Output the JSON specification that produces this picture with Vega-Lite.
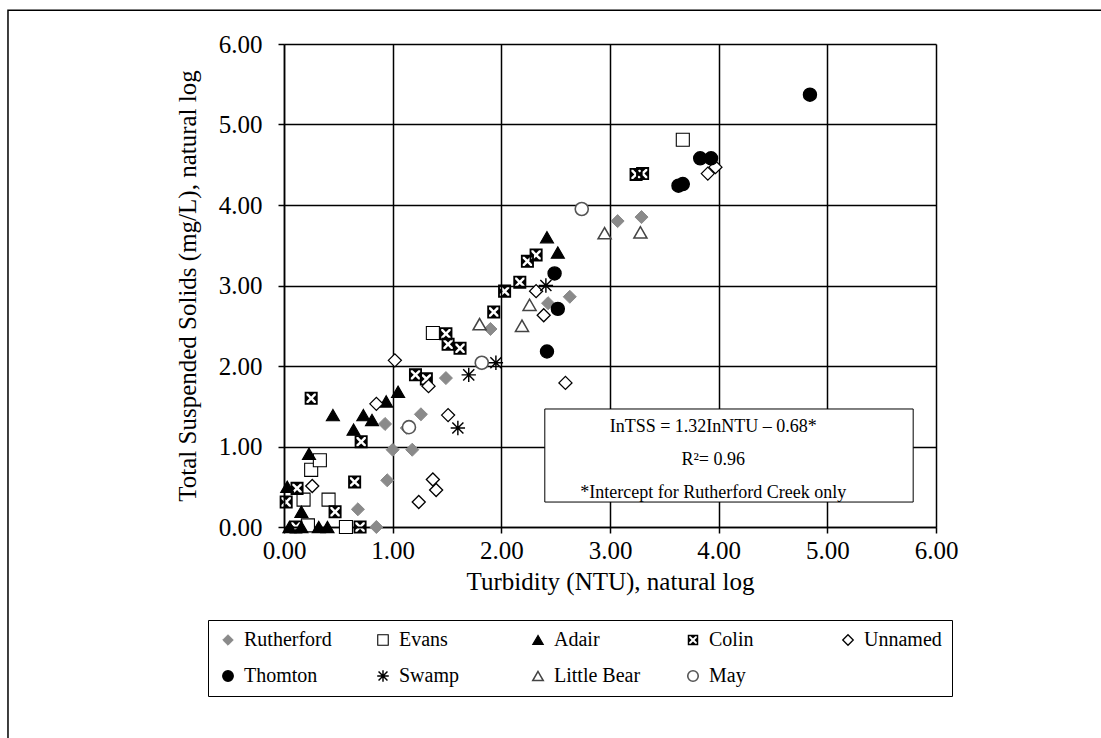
{
  "$schema": "https://vega.github.io/schema/vega-lite/v6.json",
  "width": 652,
  "height": 483,
  "autosize": {"type": "none"},
  "padding": {"left": 284, "top": 44, "right": 165, "bottom": 211},
  "background": "white",
  "config": {
    "view": {"stroke": null},
    "font": "Liberation Serif",
    "axis": {
      "labelFont": "Liberation Serif", "labelFontSize": 25, "labelColor": "black", "labelFlush": false,
      "titleFont": "Liberation Serif", "titleFontSize": 25, "titleFontWeight": "normal", "titleColor": "black",
      "domainColor": "black", "domainWidth": 1.5,
      "gridColor": "black", "gridWidth": 1.5, "gridOpacity": 1,
      "tickColor": "black", "tickSize": 6, "tickWidth": 1.5
    }
  },
  "datasets": {
    "pts": [
      {"site": "Rutherford", "x": 0.85, "y": 0.0},
      {"site": "Rutherford", "x": 0.68, "y": 0.22},
      {"site": "Rutherford", "x": 0.95, "y": 0.58},
      {"site": "Rutherford", "x": 1.0, "y": 0.96},
      {"site": "Rutherford", "x": 1.18, "y": 0.96},
      {"site": "Rutherford", "x": 0.93, "y": 1.28},
      {"site": "Rutherford", "x": 1.13, "y": 1.23},
      {"site": "Rutherford", "x": 1.26, "y": 1.4},
      {"site": "Rutherford", "x": 1.49, "y": 1.85},
      {"site": "Rutherford", "x": 1.9, "y": 2.46},
      {"site": "Rutherford", "x": 1.82, "y": 2.03},
      {"site": "Rutherford", "x": 2.43, "y": 2.78},
      {"site": "Rutherford", "x": 2.63, "y": 2.86},
      {"site": "Rutherford", "x": 3.07, "y": 3.8},
      {"site": "Rutherford", "x": 3.29, "y": 3.85},
      {"site": "Evans", "x": 0.22, "y": 0.02},
      {"site": "Evans", "x": 0.57, "y": 0.0},
      {"site": "Evans", "x": 0.18, "y": 0.34},
      {"site": "Evans", "x": 0.41, "y": 0.34},
      {"site": "Evans", "x": 0.25, "y": 0.71},
      {"site": "Evans", "x": 0.33, "y": 0.83},
      {"site": "Evans", "x": 1.37, "y": 2.41},
      {"site": "Evans", "x": 3.67, "y": 4.81},
      {"site": "Adair", "x": 0.05, "y": 0.0},
      {"site": "Adair", "x": 0.16, "y": 0.0},
      {"site": "Adair", "x": 0.32, "y": 0.0},
      {"site": "Adair", "x": 0.4, "y": 0.0},
      {"site": "Adair", "x": 0.03, "y": 0.5},
      {"site": "Adair", "x": 0.16, "y": 0.19},
      {"site": "Adair", "x": 0.23, "y": 0.91},
      {"site": "Adair", "x": 0.45, "y": 1.39},
      {"site": "Adair", "x": 0.64, "y": 1.21},
      {"site": "Adair", "x": 0.73, "y": 1.39},
      {"site": "Adair", "x": 0.81, "y": 1.33},
      {"site": "Adair", "x": 0.94, "y": 1.56},
      {"site": "Adair", "x": 1.05, "y": 1.68},
      {"site": "Adair", "x": 2.42, "y": 3.6},
      {"site": "Adair", "x": 2.52, "y": 3.41},
      {"site": "Colin", "x": 0.11, "y": 0.0},
      {"site": "Colin", "x": 0.7, "y": 0.0},
      {"site": "Colin", "x": 0.02, "y": 0.31},
      {"site": "Colin", "x": 0.12, "y": 0.48},
      {"site": "Colin", "x": 0.47, "y": 0.19},
      {"site": "Colin", "x": 0.65, "y": 0.56},
      {"site": "Colin", "x": 0.71, "y": 1.06},
      {"site": "Colin", "x": 0.25, "y": 1.6},
      {"site": "Colin", "x": 1.21, "y": 1.89},
      {"site": "Colin", "x": 1.31, "y": 1.84},
      {"site": "Colin", "x": 1.49, "y": 2.4},
      {"site": "Colin", "x": 1.51, "y": 2.27},
      {"site": "Colin", "x": 1.62, "y": 2.22},
      {"site": "Colin", "x": 1.93, "y": 2.67},
      {"site": "Colin", "x": 2.03, "y": 2.93},
      {"site": "Colin", "x": 2.17, "y": 3.04},
      {"site": "Colin", "x": 2.24, "y": 3.3},
      {"site": "Colin", "x": 2.32, "y": 3.38},
      {"site": "Colin", "x": 3.24, "y": 4.38},
      {"site": "Colin", "x": 3.3, "y": 4.39},
      {"site": "Unnamed", "x": 0.26, "y": 0.51},
      {"site": "Unnamed", "x": 0.85, "y": 1.53},
      {"site": "Unnamed", "x": 1.02, "y": 2.07},
      {"site": "Unnamed", "x": 1.33, "y": 1.75},
      {"site": "Unnamed", "x": 1.24, "y": 0.31},
      {"site": "Unnamed", "x": 1.37, "y": 0.59},
      {"site": "Unnamed", "x": 1.4, "y": 0.46},
      {"site": "Unnamed", "x": 1.51, "y": 1.39},
      {"site": "Unnamed", "x": 2.32, "y": 2.93},
      {"site": "Unnamed", "x": 2.39, "y": 2.63},
      {"site": "Unnamed", "x": 2.59, "y": 1.79},
      {"site": "Unnamed", "x": 3.9, "y": 4.39},
      {"site": "Unnamed", "x": 3.97, "y": 4.47},
      {"site": "Thomton", "x": 2.42, "y": 2.18},
      {"site": "Thomton", "x": 2.52, "y": 2.71},
      {"site": "Thomton", "x": 2.49, "y": 3.15},
      {"site": "Thomton", "x": 3.63, "y": 4.24},
      {"site": "Thomton", "x": 3.67, "y": 4.26},
      {"site": "Thomton", "x": 3.83, "y": 4.58},
      {"site": "Thomton", "x": 3.93, "y": 4.58},
      {"site": "Thomton", "x": 4.84, "y": 5.37},
      {"site": "Swamp", "x": 1.6, "y": 1.23},
      {"site": "Swamp", "x": 1.7, "y": 1.89},
      {"site": "Swamp", "x": 1.95, "y": 2.04},
      {"site": "Swamp", "x": 2.41, "y": 3.0},
      {"site": "Little Bear", "x": 1.8, "y": 2.52},
      {"site": "Little Bear", "x": 2.19, "y": 2.5},
      {"site": "Little Bear", "x": 2.26, "y": 2.76},
      {"site": "Little Bear", "x": 2.95, "y": 3.65},
      {"site": "Little Bear", "x": 3.28, "y": 3.66},
      {"site": "May", "x": 1.15, "y": 1.24},
      {"site": "May", "x": 1.82, "y": 2.04},
      {"site": "May", "x": 2.74, "y": 3.95}
    ]
  },
  "layer": [
    {
      "data": {"values": [{}]},
      "mark": {"type": "rect", "fill": null, "stroke": "black", "strokeWidth": 1.5, "clip": false},
      "encoding": {
        "x": {"datum": -2.54, "type": "quantitative", "scale": {"domain": [0, 6], "nice": false}},
        "x2": {"datum": 9},
        "y": {"datum": 6.42, "type": "quantitative", "scale": {"domain": [0, 6], "nice": false}},
        "y2": {"datum": -4}
      }
    },
    {
      "data": {"name": "pts"},
      "mark": {"type": "point", "filled": true, "opacity": 1, "size": 170},
      "encoding": {
        "x": {
          "field": "x", "type": "quantitative",
          "scale": {"domain": [0, 6], "nice": false},
          "axis": {"values": [0, 1, 2, 3, 4, 5, 6], "format": ".2f", "grid": true, "labelPadding": 5, "titlePadding": 6},
          "title": "Turbidity (NTU), natural log"
        },
        "y": {
          "field": "y", "type": "quantitative",
          "scale": {"domain": [0, 6], "nice": false},
          "axis": {"values": [0, 1, 2, 3, 4, 5, 6], "format": ".2f", "grid": true, "labelPadding": 16, "titlePadding": 18},
          "title": "Total Suspended Solids (mg/L), natural log"
        },
        "shape": {
          "field": "site", "type": "nominal", "title": null,
          "scale": {
            "domain": ["Rutherford", "Evans", "Adair", "Colin", "Unnamed", "Thomton", "Swamp", "Little Bear", "May"],
            "range": ["diamond", "square", "triangle-up",
              "M-1,-1H1V1H-1ZM-0.72,-0.72V0.72H0.72V-0.72ZM-0.45,-0.72H0.45L0,-0.27ZM0.72,-0.45V0.45L0.27,0ZM0.45,0.72H-0.45L0,0.27ZM-0.72,0.45V-0.45L-0.27,0Z",
              "diamond", "circle",
              "M-0.85,-0.85L0.85,0.85M-0.85,0.85L0.85,-0.85M0,-1.1V1.1M-1.1,0H1.1",
              "triangle-up", "circle"]
          },
          "legend": {
            "orient": "none", "legendX": -76, "legendY": 576, "direction": "horizontal", "columns": 5,
            "gridAlign": "all", "columnPadding": 41, "rowPadding": 16,
            "strokeColor": "black", "padding": 10,
            "labelFont": "Liberation Serif", "labelFontSize": 20, "labelColor": "black", "labelOffset": 6,
            "symbolSize": 110, "labelLimit": 200
          }
        },
        "fill": {
          "field": "site", "type": "nominal", "title": null,
          "scale": {
            "domain": ["Rutherford", "Evans", "Adair", "Colin", "Unnamed", "Thomton", "Swamp", "Little Bear", "May"],
            "range": ["#8a8a8a", "white", "black", "black", "white", "black", "transparent", "white", "white"]
          }
        },
        "stroke": {
          "field": "site", "type": "nominal", "title": null,
          "scale": {
            "domain": ["Rutherford", "Evans", "Adair", "Colin", "Unnamed", "Thomton", "Swamp", "Little Bear", "May"],
            "range": ["#8a8a8a", "black", "black", "transparent", "black", "black", "black", "#444444", "#555555"]
          }
        },
        "strokeWidth": {
          "field": "site", "type": "nominal", "title": null,
          "scale": {
            "domain": ["Rutherford", "Evans", "Adair", "Colin", "Unnamed", "Thomton", "Swamp", "Little Bear", "May"],
            "range": [1, 1.6, 1, 0, 1.4, 1, 2.6, 1.4, 1.4]
          }
        }
      }
    },
    {
      "data": {"values": [{}]},
      "mark": {"type": "rect", "fill": "white", "stroke": "black", "strokeWidth": 1},
      "encoding": {
        "x": {"datum": 2.4, "type": "quantitative"},
        "x2": {"datum": 5.79},
        "y": {"datum": 1.466, "type": "quantitative"},
        "y2": {"datum": 0.31}
      }
    },
    {
      "data": {"values": [{}]},
      "mark": {"type": "text", "font": "Liberation Serif", "fontSize": 18, "color": "black", "align": "center", "baseline": "middle", "lineHeight": 33},
      "encoding": {
        "x": {"datum": 3.95, "type": "quantitative"},
        "y": {"datum": 1.245, "type": "quantitative"},
        "text": {"value": ["InTSS = 1.32InNTU – 0.68*", "R²= 0.96", "*Intercept for Rutherford Creek only"]}
      }
    }
  ]
}
